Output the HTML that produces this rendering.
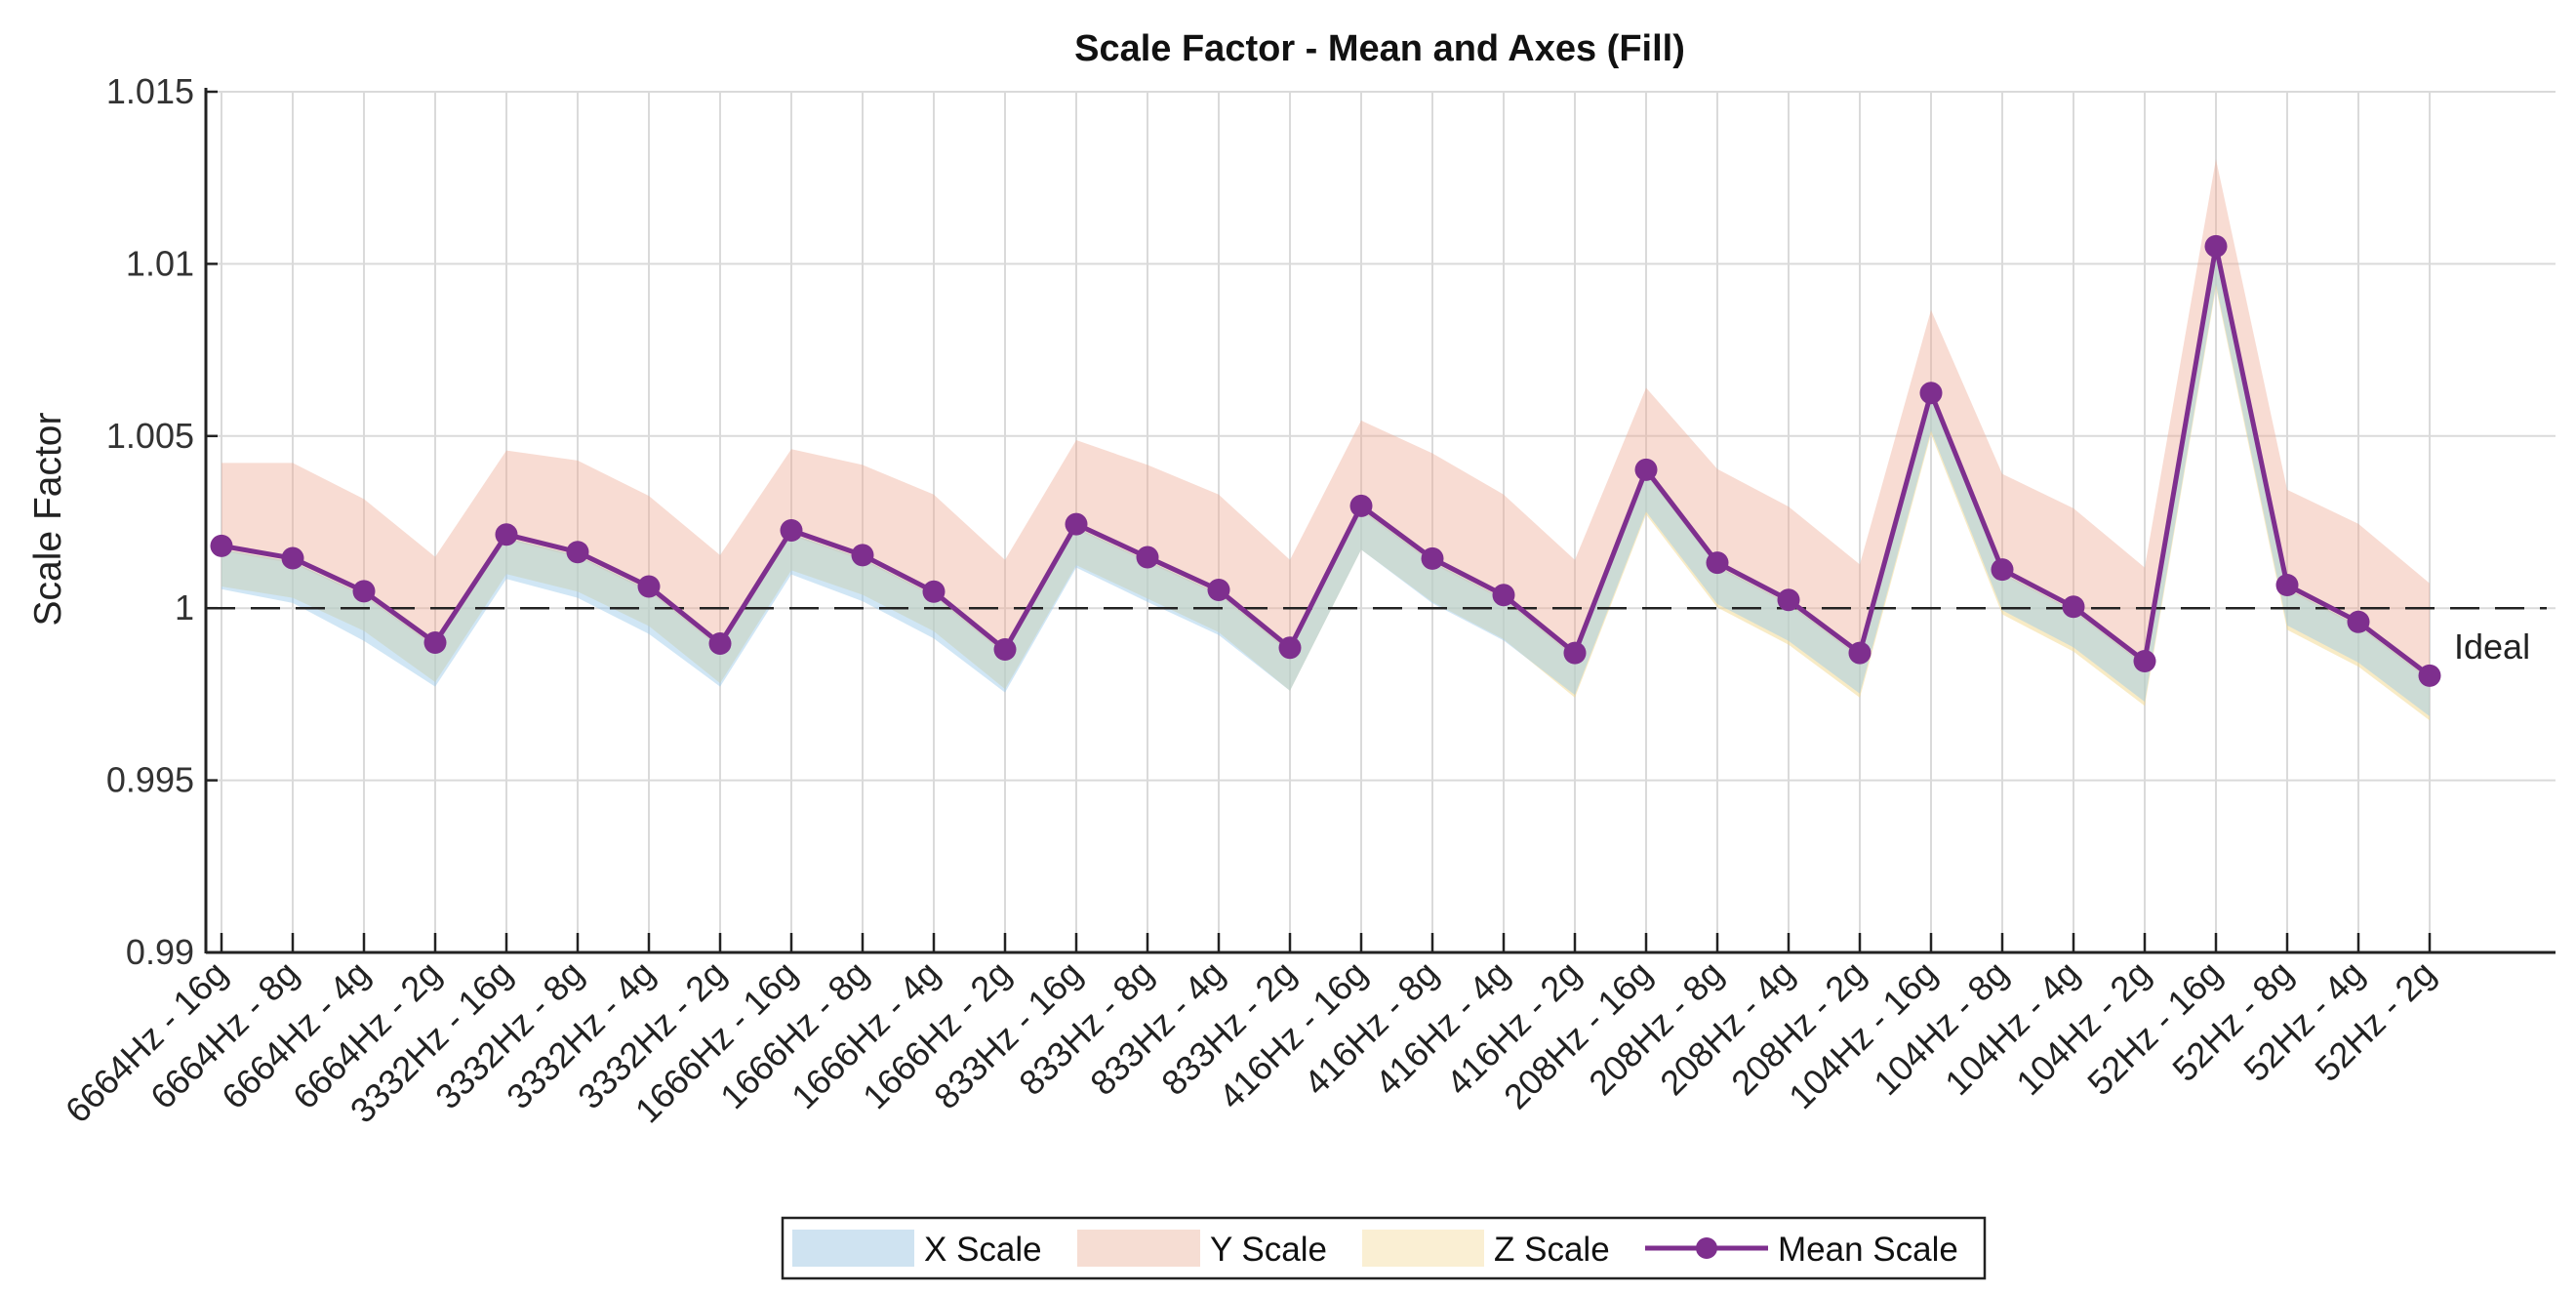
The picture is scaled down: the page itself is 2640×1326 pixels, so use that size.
<!DOCTYPE html>
<html><head><meta charset="utf-8">
<style>
html,body{margin:0;padding:0;background:#fff;}
svg{display:block;font-family:"Liberation Sans",sans-serif;}
</style></head>
<body>
<svg id="chart" width="2640" height="1326" viewBox="0 0 2640 1326">
<rect width="2640" height="1326" fill="#fff"/>
<text x="1414" y="62" text-anchor="middle" font-size="38" font-weight="bold" fill="#111">Scale Factor - Mean and Axes (Fill)</text>
<g id="grid"></g>
<g id="bands"></g>
<g id="ideal"></g>
<g id="series"></g>
<g id="axes"></g>
<text x="62" y="532" text-anchor="middle" font-size="39" fill="#222" transform="rotate(-90 62 532)">Scale Factor</text>
<g>
<rect x="802" y="1248" width="1232" height="62" fill="#fff" stroke="#222" stroke-width="2.5"/>
<rect x="812" y="1260" width="125" height="38" fill="#cfe3f1"/>
<text x="947" y="1292" font-size="35" fill="#111">X Scale</text>
<rect x="1104" y="1260" width="126" height="38" fill="#f6ddd3"/>
<text x="1240" y="1292" font-size="35" fill="#111">Y Scale</text>
<rect x="1396" y="1260" width="125" height="38" fill="#faefd3"/>
<text x="1531" y="1292" font-size="35" fill="#111">Z Scale</text>
<line x1="1686" y1="1279" x2="1812" y2="1279" stroke="#7e2f8e" stroke-width="5"/>
<circle cx="1749" cy="1279" r="11" fill="#7e2f8e"/>
<text x="1822" y="1292" font-size="35" fill="#111">Mean Scale</text>
</g>
</svg>
<script>
const categories = ["6664Hz - 16g","6664Hz - 8g","6664Hz - 4g","6664Hz - 2g","3332Hz - 16g","3332Hz - 8g","3332Hz - 4g","3332Hz - 2g","1666Hz - 16g","1666Hz - 8g","1666Hz - 4g","1666Hz - 2g","833Hz - 16g","833Hz - 8g","833Hz - 4g","833Hz - 2g","416Hz - 16g","416Hz - 8g","416Hz - 4g","416Hz - 2g","208Hz - 16g","208Hz - 8g","208Hz - 4g","208Hz - 2g","104Hz - 16g","104Hz - 8g","104Hz - 4g","104Hz - 2g","52Hz - 16g","52Hz - 8g","52Hz - 4g","52Hz - 2g"];
const meanScale = [1.00181,1.00145,1.00049,0.99900,1.00214,1.00163,1.00063,0.99897,1.00226,1.00154,1.00048,0.99880,1.00244,1.00148,1.00053,0.99885,1.00297,1.00144,1.00038,0.99870,1.00402,1.00132,1.00024,0.99870,1.00625,1.00112,1.00004,0.99846,1.01051,1.00067,0.99960,0.99804];
const yHi = [1.00422,1.00422,1.00317,1.00149,1.00458,1.00429,1.00326,1.00154,1.00462,1.00416,1.00330,1.00140,1.00488,1.00416,1.00330,1.00140,1.00545,1.00450,1.00330,1.00140,1.00640,1.00404,1.00295,1.00127,1.00866,1.00390,1.00290,1.00118,1.01304,1.00344,1.00245,1.00072];
const yLo = [1.00166,1.00130,1.00034,0.99885,1.00199,1.00148,1.00048,0.99882,1.00211,1.00139,1.00033,0.99865,1.00229,1.00133,1.00038,0.99870,1.00282,1.00129,1.00023,0.99855,1.00387,1.00117,1.00009,0.99855,1.00610,1.00097,0.99989,0.99831,1.01036,1.00052,0.99945,0.99789];
const xHi = [1.00171,1.00135,1.00039,0.99890,1.00204,1.00153,1.00053,0.99887,1.00216,1.00144,1.00038,0.99870,1.00234,1.00138,1.00043,0.99875,1.00287,1.00134,1.00028,0.99860,1.00392,1.00122,1.00014,0.99860,1.00615,1.00102,0.99994,0.99836,1.01041,1.00057,0.99950,0.99794];
const xLo = [1.00055,1.00015,0.99905,0.99772,1.00085,1.00030,0.99925,0.99772,1.00098,1.00020,0.99912,0.99755,1.00118,1.00018,0.99922,0.99760,1.00170,1.00014,0.99906,0.99748,1.00280,1.00012,0.99905,0.99752,1.00515,0.99994,0.99886,0.99728,1.00940,0.99950,0.99842,0.99686];
const zHi = [1.00171,1.00135,1.00039,0.99890,1.00204,1.00153,1.00053,0.99887,1.00216,1.00144,1.00038,0.99870,1.00234,1.00138,1.00043,0.99875,1.00287,1.00134,1.00028,0.99860,1.00392,1.00122,1.00014,0.99860,1.00615,1.00102,0.99994,0.99836,1.01041,1.00057,0.99950,0.99794];
const zLo = [1.00063,1.00030,0.99934,0.99785,1.00099,1.00048,0.99948,0.99782,1.00110,1.00039,0.99933,0.99765,1.00125,1.00028,0.99930,0.99760,1.00170,1.00018,0.99910,0.99740,1.00272,1.00002,0.99894,0.99740,1.00505,0.99982,0.99874,0.99716,1.00930,0.99937,0.99830,0.99674];
const yTicks = [0.99,0.995,1,1.005,1.01,1.015];
const yTickLabels = ["0.99","0.995","1","1.005","1.01","1.015"];
const idealValue = 1;

const NS = "http://www.w3.org/2000/svg";
const plotL = 211, plotR = 2619, plotT = 94, plotB = 976;
const yMin = 0.99, yMax = 1.015;
const x0 = 227, dx = 73;
function xPos(i){ return x0 + dx*i; }
function yPos(v){ return plotB - (v - yMin)/(yMax - yMin)*(plotB - plotT); }
function mk(tag, attrs, parent){ const e=document.createElementNS(NS,tag); for(const k in attrs) e.setAttribute(k, attrs[k]); parent.appendChild(e); return e; }

const grid = document.getElementById('grid');
const axes = document.getElementById('axes');
yTicks.forEach((t,i)=>{
  const y = yPos(t);
  const gl = mk('line',{x1:plotL,x2:plotR,y1:y,y2:y,stroke:'#dadada','stroke-width':2},grid);
  
  
  const tk = mk('line',{x1:plotL,x2:plotL+12,y1:y,y2:y,stroke:'#222','stroke-width':2.5},axes);
  
  
  const tl = mk('text',{x:plotL-12,y:y+12,'text-anchor':'end','font-size':36,fill:'#333'},axes);
  tl.textContent = yTickLabels[i];
  
  
});
categories.forEach((c,i)=>{
  const x = xPos(i);
  const gl = mk('line',{x1:x,x2:x,y1:plotT,y2:plotB,stroke:'#dadada','stroke-width':2},grid);
  
  
  const tk = mk('line',{x1:x,x2:x,y1:plotB,y2:plotB-20,stroke:'#222','stroke-width':2.5},axes);
  
  
  const tl = mk('text',{x:x+8,y:plotB+24,'text-anchor':'end','font-size':36,fill:'#222',transform:`rotate(-45 ${x+8} ${plotB+24})`},axes);
  tl.textContent = c;
  
  
});
const ya = mk('line',{x1:plotL,x2:plotL,y1:plotT-4,y2:plotB+1,stroke:'#222','stroke-width':3},axes);


const xa = mk('line',{x1:plotL,x2:plotR,y1:plotB,y2:plotB,stroke:'#222','stroke-width':3},axes);



function bandPath(hi, lo){
  let d = '';
  hi.forEach((v,i)=>{ d += (i?'L':'M') + xPos(i) + ',' + yPos(v); });
  for(let i=lo.length-1;i>=0;i--) d += 'L' + xPos(i) + ',' + yPos(lo[i]);
  return d + 'Z';
}
const bands = document.getElementById('bands');
const by = mk('path',{d:bandPath(yHi,yLo),fill:'rgb(238,172,150)','fill-opacity':0.42},bands);


const bz = mk('path',{d:bandPath(zHi,zLo),fill:'rgb(242,215,140)','fill-opacity':0.5},bands);


const bx = mk('path',{d:bandPath(xHi,xLo),fill:'rgb(150,200,232)','fill-opacity':0.45},bands);



const ideal = document.getElementById('ideal');
const il = mk('line',{x1:plotL,x2:2610,y1:yPos(idealValue),y2:yPos(idealValue),stroke:'#222','stroke-width':2.5,'stroke-dasharray':'30 16'},ideal);


const it = mk('text',{x:2515,y:yPos(idealValue)+52,'font-size':36,fill:'#222'},ideal);
it.textContent = 'Ideal';



const series = document.getElementById('series');
const pl = mk('polyline',{points:meanScale.map((v,i)=>xPos(i)+','+yPos(v)).join(' '),fill:'none',stroke:'#7e2f8e','stroke-width':5,'stroke-linejoin':'round'},series);


meanScale.forEach((v,i)=>{
  const c = mk('circle',{cx:xPos(i),cy:yPos(v),r:11.5,fill:'#7e2f8e'},series);
  
  
});
</script>
</body></html>
